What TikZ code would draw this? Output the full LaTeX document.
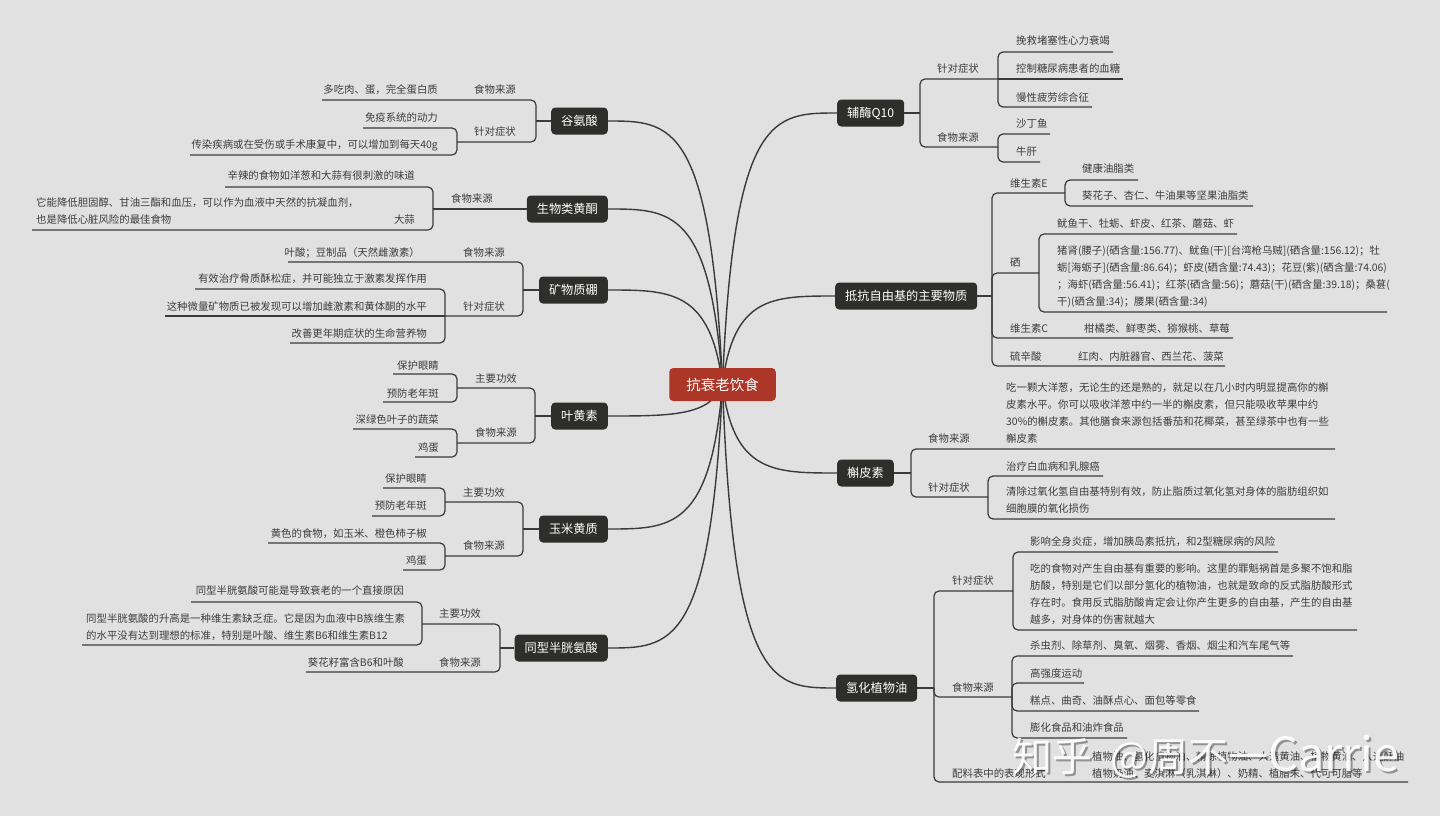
\documentclass[tikz,border=0pt]{standalone}
\usepackage{fontspec}
\setmainfont{Noto Sans CJK SC}
\definecolor{bgc}{RGB}{225,225,225}
\definecolor{dkc}{RGB}{46,46,42}
\definecolor{rtc}{RGB}{172,54,40}
\definecolor{lnc}{RGB}{58,58,58}
\definecolor{txc}{RGB}{60,60,60}
\pgfdeclarelayer{lower}
\pgfsetlayers{lower,main}
\newcommand\ml[1]{\begin{tabular}[t]{@{}l@{}}#1\end{tabular}}
\newcommand\kid[4]{\draw[br] (#1,#2) -- (#1,#3) -- (#4,#3);}
\newcommand\txe[4]{\node[le] (#1) at (#2,{#3+4}) {#4};}
\newcommand\txw[4]{\node[lw] (#1) at (#2,{#3+4}) {#4};}
\tikzset{
  lf/.style={inner sep=0pt, text=txc, font=\fontsize{10.4}{17}\selectfont},
  lw/.style={lf, anchor=base west},
  le/.style={lf, anchor=base east},
  mn/.style={fill=dkc, text=white, rounded corners=4pt, minimum height=27pt, inner xsep=10pt, inner ysep=0pt, font=\fontsize{12.2}{14}\selectfont},
  rootn/.style={fill=rtc, text=white, rounded corners=4pt, minimum height=33pt, inner xsep=17pt, inner ysep=0pt, font=\fontsize{14.5}{16}\selectfont},
  br/.style={draw=lnc, line width=1.2pt, rounded corners=5pt},
  cn/.style={draw=lnc, line width=1.4pt},
}
\begin{document}
\begin{tikzpicture}[x=1pt,y=-1pt]
\begin{pgfonlayer}{lower}
\fill[bgc] (0,0) rectangle (1440,816);
\end{pgfonlayer}
\useasboundingbox (0,0) rectangle (1440,816);

% main nodes
\node[rootn] (root) at (722.5,384.5) {抗衰老饮食};
\node[mn, anchor=east] (gu) at (608,121) {谷氨酸};
\node[mn, anchor=east] (sh) at (608,209) {生物类黄酮};
\node[mn, anchor=east] (kw) at (608,290) {矿物质硼};
\node[mn, anchor=east] (yh) at (608,416) {叶黄素};
\node[mn, anchor=east] (ym) at (608,529) {玉米黄质};
\node[mn, anchor=east] (tx) at (608,648) {同型半胱氨酸};
\node[mn, anchor=west] (fm) at (837,113) {辅酶Q10};
\node[mn, anchor=west] (dk) at (835,296) {抵抗自由基的主要物质};
\node[mn, anchor=west] (hp) at (837,473) {槲皮素};
\node[mn, anchor=west] (qh) at (836,688) {氢化植物油};

% left texts
\txe{g1}{516}{89}{食物来源}
\txe{g1a}{438}{89}{多吃肉、蛋，完全蛋白质}
\txe{g2}{516}{131}{针对症状}
\txe{g2a}{438}{117}{免疫系统的动力}
\txe{g2b}{438}{144}{传染疾病或在受伤或手术康复中，可以增加到每天40g}

\txe{s1}{493}{198}{食物来源}
\txe{s1a}{415}{175}{辛辣的食物如洋葱和大蒜有很刺激的味道}
\txw{s1b}{36}{202}{\ml{它能降低胆固醇、甘油三酯和血压，可以作为血液中天然的抗凝血剂，\\也是降低心脏风险的最佳食物}}
\txe{s1c}{415}{219}{大蒜}

\txe{k1}{505}{252}{食物来源}
\txe{k1a}{420}{252}{叶酸；豆制品（天然雌激素）}
\txe{k2}{505}{306}{针对症状}
\txe{k2a}{427}{278}{有效治疗骨质酥松症，并可能独立于激素发挥作用}
\txe{k2b}{427}{306}{这种微量矿物质已被发现可以增加雌激素和黄体酮的水平}
\txe{k2c}{427}{333}{改善更年期症状的生命营养物}

\txe{y1}{517}{378}{主要功效}
\txe{y1a}{439}{365}{保护眼睛}
\txe{y1b}{439}{393}{预防老年斑}
\txe{y2}{517}{432}{食物来源}
\txe{y2a}{439}{419}{深绿色叶子的蔬菜}
\txe{y2b}{439}{447}{鸡蛋}

\txe{m1}{505}{492}{主要功效}
\txe{m1a}{427}{478}{保护眼睛}
\txe{m1b}{427}{505}{预防老年斑}
\txe{m2}{505}{545}{食物来源}
\txe{m2a}{427}{533}{黄色的食物，如玉米、橙色柿子椒}
\txe{m2b}{427}{560}{鸡蛋}

\txe{t1}{481}{613}{主要功效}
\txe{t1a}{404}{590}{同型半胱氨酸可能是导致衰老的一个直接原因}
\txw{t1b}{86}{618}{\ml{同型半胱氨酸的升高是一种维生素缺乏症。它是因为血液中B族维生素\\的水平没有达到理想的标准，特别是叶酸、维生素B6和维生素B12}}
\txe{t2}{481}{662}{食物来源}
\txe{t2a}{404}{662}{葵花籽富含B6和叶酸}

% right texts
\txw{f1}{937}{69}{针对症状}
\txw{f1a}{1016}{41}{挽救堵塞性心力衰竭}
\txw{f1b}{1016}{68}{控制糖尿病患者的血糖}
\txw{f1c}{1016}{97}{慢性疲劳综合征}
\txw{f2}{937}{137}{食物来源}
\txw{f2a}{1016}{123}{沙丁鱼}
\txw{f2b}{1016}{151}{牛肝}

\txw{d1}{1010}{183}{维生素E}
\txw{d1a}{1082}{168}{健康油脂类}
\txw{d1b}{1082}{195}{葵花子、杏仁、牛油果等坚果油脂类}
\txw{d2}{1010}{262}{硒}
\txw{d2a}{1057}{223}{鱿鱼干、牡蛎、虾皮、红茶、蘑菇、虾}
\txw{d2b}{1057}{250}{\ml{猪肾(腰子)(硒含量:156.77)、鱿鱼(干)[台湾枪乌贼](硒含量:156.12)；牡\\蛎[海蛎子](硒含量:86.64)；虾皮(硒含量:74.43)；花豆(紫)(硒含量:74.06)\\；海虾(硒含量:56.41)；红茶(硒含量:56)；蘑菇(干)(硒含量:39.18)；桑葚(\\干)(硒含量:34)；腰果(硒含量:34)}}
\txw{d3}{1010}{328}{维生素C}
\txw{d3a}{1084}{328}{柑橘类、鲜枣类、猕猴桃、草莓}
\txw{d4}{1010}{356}{硫辛酸}
\txw{d4a}{1078}{356}{红肉、内脏器官、西兰花、菠菜}

\txw{h1}{928}{438}{食物来源}
\txw{h1a}{1006}{387}{\ml{吃一颗大洋葱，无论生的还是熟的，就足以在几小时内明显提高你的槲\\皮素水平。你可以吸收洋葱中约一半的槲皮素，但只能吸收苹果中约\\30\%的槲皮素。其他膳食来源包括番茄和花椰菜，甚至绿茶中也有一些\\槲皮素}}
\txw{h2}{928}{487}{针对症状}
\txw{h2a}{1006}{466}{治疗白血病和乳腺癌}
\txw{h2b}{1006}{491}{\ml{清除过氧化氢自由基特别有效，防止脂质过氧化氢对身体的脂肪组织如\\细胞膜的氧化损伤}}

\txw{q1}{952}{580}{针对症状}
\txw{q1a}{1030}{541}{影响全身炎症，增加胰岛素抵抗，和2型糖尿病的风险}
\txw{q1b}{1030}{568}{\ml{吃的食物对产生自由基有重要的影响。这里的罪魁祸首是多聚不饱和脂\\肪酸，特别是它们以部分氢化的植物油，也就是致命的反式脂肪酸形式\\存在时。食用反式脂肪酸肯定会让你产生更多的自由基，产生的自由基\\越多，对身体的伤害就越大}}
\txw{q2}{952}{687}{食物来源}
\txw{q2a}{1030}{645}{杀虫剂、除草剂、臭氧、烟雾、香烟、烟尘和汽车尾气等}
\txw{q2b}{1030}{673}{高强度运动}
\txw{q2c}{1030}{700}{糕点、曲奇、油酥点心、面包等零食}
\txw{q2d}{1030}{727}{膨化食品和油炸食品}
\txw{q3}{952}{773}{配料表中的表现形式}
\txw{q3a}{1092}{756}{\ml{植物油、氢化植物油、精炼植物油、人造黄油、植物黄油、人造酥油\\植物奶油、麦淇淋（乳淇淋）、奶精、植脂末、代可可脂等}}

\begin{pgfonlayer}{lower}
% root connectors
\draw[cn] (root.center) .. controls (710.6,121) and (670.7,121) .. (gu.east);
\draw[cn] (root.center) .. controls (710.6,209) and (670.7,209) .. (sh.east);
\draw[cn] (root.center) .. controls (710.6,290) and (670.7,290) .. (kw.east);
\draw[cn] (root.center) .. controls (710.6,416) and (670.7,416) .. (yh.east);
\draw[cn] (root.center) .. controls (710.6,529) and (670.7,529) .. (ym.east);
\draw[cn] (root.center) .. controls (710.6,648) and (670.7,648) .. (tx.east);
\draw[cn] (root.center) .. controls (733.5,113) and (773.8,113) .. (fm.west);
\draw[cn] (root.center) .. controls (733.3,296) and (772.9,296) .. (dk.west);
\draw[cn] (root.center) .. controls (733.5,473) and (773.8,473) .. (hp.west);
\draw[cn] (root.center) .. controls (733.4,688) and (773.3,688) .. (qh.west);

% left branches
\draw[br] (gu.west) -- (536,121);
\kid{536}{121}{100}{322}
\kid{536}{121}{142}{457}
\kid{457}{142}{128}{363}
\kid{457}{142}{155}{190}

\draw[br] (sh.west) -- (433,209);
\kid{433}{209}{187}{225}
\kid{433}{209}{230}{32}

\draw[br] (kw.west) -- (523,290);
\kid{523}{290}{262}{288}
\kid{523}{290}{316}{445}
\kid{445}{316}{289}{195}
\draw[br] (445,316) -- (165,316);
\kid{445}{316}{343}{290}

\draw[br] (yh.west) -- (535,416);
\kid{535}{416}{388}{457}
\kid{535}{416}{443}{457}
\kid{457}{388}{374}{393}
\kid{457}{388}{402}{383}
\kid{457}{443}{429}{353}
\kid{457}{443}{457}{415}

\draw[br] (ym.west) -- (523,529);
\kid{523}{529}{502}{445}
\kid{523}{529}{556}{445}
\kid{445}{502}{488}{383}
\kid{445}{502}{516}{372}
\kid{445}{556}{543}{268}
\kid{445}{556}{570}{403}

\draw[br] (tx.west) -- (500,648);
\kid{500}{648}{624}{422}
\kid{500}{648}{672}{306}
\kid{422}{624}{602}{191}
\kid{422}{624}{645}{82}

% right branches
\draw[br] (fm.east) -- (920,113);
\kid{920}{113}{79}{998}
\kid{920}{113}{147}{998}
\kid{998}{79}{52}{1113}
\draw[br] (998,79) -- (1123,79);
\kid{998}{79}{107}{1092}
\kid{998}{147}{134}{1050}
\kid{998}{147}{162}{1040}

\draw[br] (dk.east) -- (992,296);
\kid{992}{296}{193}{1065}
\kid{992}{296}{273}{1039}
\kid{992}{296}{338}{1233}
\kid{992}{296}{366}{1225}
\kid{1065}{193}{180}{1138}
\kid{1065}{193}{206}{1253}
\kid{1039}{273}{234}{1237}
\kid{1039}{273}{312}{1387}

\draw[br] (hp.east) -- (911,473);
\kid{911}{473}{449}{1335}
\kid{911}{473}{497}{988}
\kid{988}{497}{476}{1103}
\kid{988}{497}{519}{1335}

\draw[br] (qh.east) -- (934,688);
\kid{934}{688}{591}{1013}
\kid{934}{688}{697}{1012}
\kid{934}{688}{782}{1408}
\kid{1013}{591}{552}{1278}
\kid{1013}{591}{630}{1357}
\kid{1012}{697}{656}{1293}
\kid{1012}{697}{683}{1084}
\kid{1012}{697}{711}{1199}
\kid{1012}{697}{738}{1127}
\end{pgfonlayer}

% watermark
\node[anchor=west, inner sep=0pt, text=black, opacity=.35, font=\fontsize{40}{40}\selectfont] (wms) at (1014,759) {知乎\hspace{18pt}@周不一{\fontsize{47}{47}\selectfont Carrie}};
\node[anchor=west, inner sep=0pt, text=white, opacity=.92, font=\fontsize{40}{40}\selectfont] (wm) at (1012,757) {知乎\hspace{18pt}@周不一{\fontsize{47}{47}\selectfont Carrie}};
\end{tikzpicture}
\end{document}
